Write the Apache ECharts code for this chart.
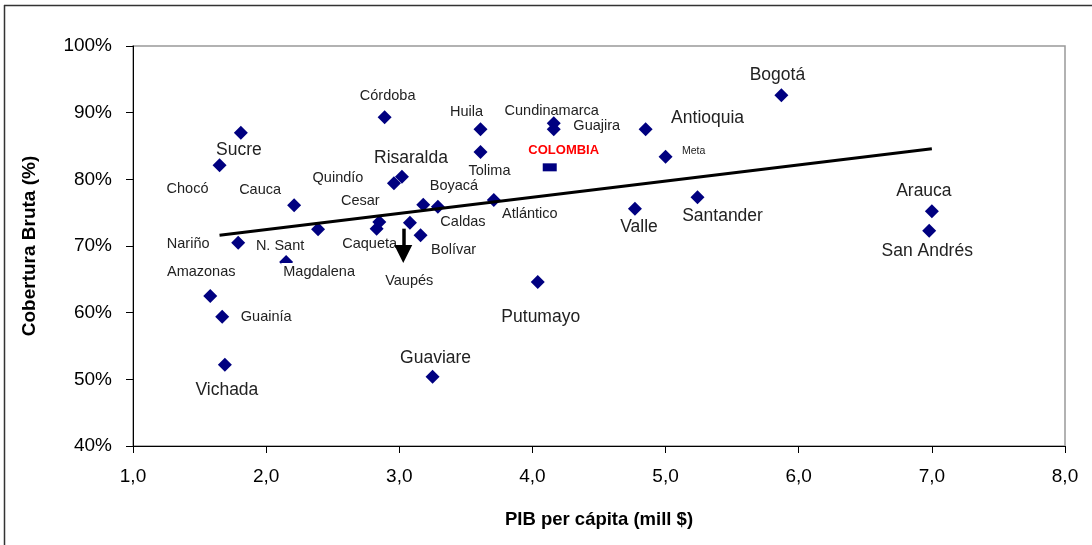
<!DOCTYPE html>
<html>
<head>
<meta charset="utf-8">
<script src="https://cdn.jsdelivr.net/npm/echarts@6/dist/echarts.min.js"></script>
<style>
  html, body { margin: 0; padding: 0; background: #fff; }
  #chart { width: 1092px; height: 545px; }
</style>
</head>
<body>
<div id="chart"></div>
<script>
// ---------- DATA ----------
const departamentos = ['Bogotá', 'Antioquia', 'Meta', 'Santander', 'Valle', 'Arauca', 'San Andrés',
  'Putumayo', 'Guaviare', 'Vichada', 'Guainía', 'Amazonas', 'Nariño', 'Magdalena', 'N. Sant',
  'Cauca', 'Chocó', 'Sucre', 'Córdoba', 'Quindío', 'Risaralda', 'Cesar', 'Caqueta', 'Vaupés',
  'Boyacá', 'Caldas', 'Bolívar', 'Atlántico', 'Tolima', 'Huila', 'Cundinamarca', 'Guajira'];
const pibPerCapita = [5.87, 4.85, 5.00, 5.24, 4.77, 7.00, 6.98,
  4.04, 3.25, 1.69, 1.67, 1.58, 1.79, 2.15, 2.39,
  2.21, 1.65, 1.81, 2.89, 2.96, 3.02, 2.85, 2.83, 3.18,
  3.29, 3.08, 3.16, 3.71, 3.61, 3.61, 4.16, 4.16];
const coberturaBruta = [92.6, 87.5, 83.4, 77.3, 75.6, 75.2, 72.3,
  64.6, 50.4, 52.2, 59.4, 62.5, 70.5, 67.6, 72.5,
  76.1, 82.1, 87.0, 89.3, 79.4, 80.4, 73.6, 72.6, 76.2,
  75.9, 73.5, 71.6, 76.9, 84.1, 87.5, 88.4, 87.5];

const paisNombre = ['COLOMBIA'];
const paisPib = [4.13];
const paisCobertura = [81.8];

const tendenciaPib = [1.65, 7.0];
const tendenciaCobertura = [71.6, 84.6];

const flechaVaupesPib = [3.03, 3.03];
const flechaVaupesCobertura = [72.6, 68.8];

const xTicks = [1, 2, 3, 4, 5, 6, 7, 8];
const yTicks = [40, 50, 60, 70, 80, 90, 100];

const xTitulo = 'PIB per cápita (mill $)';
const yTitulo = 'Cobertura Bruta (%)';

// ---------- STYLE (label placement, in pixels from the marker) ----------
const labelOffsets = {
  'Bogotá': [-4, -20], 'Antioquia': [62, -11], 'Meta': [28, -6], 'Santander': [25, 19],
  'Valle': [4, 19], 'Arauca': [-8, -20], 'San Andrés': [-2, 21], 'Putumayo': [3, 35],
  'Guaviare': [3, -18], 'Vichada': [2, 26], 'Guainía': [44, 0], 'Amazonas': [-9, -24],
  'Nariño': [-50, 1], 'Magdalena': [33, 10], 'N. Sant': [-38, 17], 'Cauca': [-34, -15],
  'Chocó': [-32, 24], 'Sucre': [-2, 18], 'Córdoba': [3, -21], 'Quindío': [-56, -5],
  'Risaralda': [9, -18], 'Cesar': [-19, -21], 'Caqueta': [-7, 15], 'Vaupés': [-14, 76],
  'Boyacá': [16, -21], 'Caldas': [53, -1], 'Bolívar': [33, 15], 'Atlántico': [36, 14],
  'Tolima': [9, 19], 'Huila': [-14, -17], 'Cundinamarca': [-2, -12], 'Guajira': [43, -3],
  'COLOMBIA': [14, -17]
};
const bigLabels = ['Bogotá', 'Antioquia', 'Santander', 'Valle', 'Arauca', 'San Andrés', 'Putumayo',
  'Guaviare', 'Vichada', 'Sucre', 'Risaralda'];
const tinyLabels = ['Meta'];
const FONT = '"Liberation Sans", Arial, Helvetica, sans-serif';

function labelSize(n) {
  if (bigLabels.includes(n)) return 17.5;
  if (tinyLabels.includes(n)) return 10.5;
  return 14.5;
}

const deptData = departamentos.map((n, i) => {
  const item = {
    name: n,
    value: [pibPerCapita[i], coberturaBruta[i]],
    label: { offset: labelOffsets[n], fontSize: labelSize(n) }
  };
  if (n === 'Magdalena') {
    item.label.backgroundColor = '#fff';
    item.label.padding = [3, 2, 0, 2];
  }
  return item;
});

const paisData = paisNombre.map((n, i) => ({
  name: n,
  value: [paisPib[i], paisCobertura[i]],
  label: { offset: labelOffsets[n] }
}));

const tendenciaData = tendenciaPib.map((x, i) => [x, tendenciaCobertura[i]]);

const chart = echarts.init(document.getElementById('chart'), null, { renderer: 'canvas' });

chart.setOption({
  animation: false,
  backgroundColor: '#fff',
  textStyle: { fontFamily: FONT },
  grid: {
    left: 133, right: 27, top: 46, bottom: 99,
    show: true, borderColor: '#999', borderWidth: 1.5, backgroundColor: 'transparent'
  },
  xAxis: {
    type: 'value',
    min: xTicks[0], max: xTicks[xTicks.length - 1], interval: xTicks[1] - xTicks[0],
    name: xTitulo, nameLocation: 'middle', nameGap: 64,
    nameTextStyle: { fontFamily: FONT, fontSize: 18.5, fontWeight: 'bold', color: '#000' },
    axisLine: { show: true, onZero: false, lineStyle: { color: '#000', width: 1 } },
    axisTick: { show: true, length: 7, lineStyle: { color: '#000' } },
    axisLabel: {
      margin: 21, fontFamily: FONT, fontSize: 19, color: '#000',
      formatter: v => v.toFixed(1).replace('.', ',')
    },
    splitLine: { show: false }
  },
  yAxis: {
    type: 'value',
    min: yTicks[0], max: yTicks[yTicks.length - 1], interval: yTicks[1] - yTicks[0],
    name: yTitulo, nameLocation: 'middle', nameGap: 94, nameRotate: 90,
    nameTextStyle: { fontFamily: FONT, fontSize: 19, fontWeight: 'bold', color: '#000' },
    axisLine: { show: true, onZero: false, lineStyle: { color: '#000', width: 1 } },
    axisTick: { show: true, length: 7, lineStyle: { color: '#000' } },
    axisLabel: { margin: 21, fontFamily: FONT, fontSize: 19, color: '#000', formatter: '{value}%' },
    splitLine: { show: false }
  },
  graphic: [
    { type: 'line', shape: { x1: 4.5, y1: 5, x2: 4.5, y2: 545 }, style: { stroke: '#333', lineWidth: 1.5 }, z: 100 },
    { type: 'line', shape: { x1: 4, y1: 5.5, x2: 1092, y2: 5.5 }, style: { stroke: '#333', lineWidth: 1.5 }, z: 100 }
  ],
  series: [
    {
      name: 'Departamentos',
      type: 'scatter',
      symbol: 'diamond',
      symbolSize: 14,
      itemStyle: { color: '#000080', opacity: 1 },
      data: deptData,
      z: 3,
      label: {
        show: true,
        position: 'inside',
        formatter: p => p.name,
        color: '#222',
        fontFamily: FONT
      }
    },
    {
      name: 'Colombia',
      type: 'scatter',
      symbol: 'rect',
      symbolSize: [14, 8],
      itemStyle: { color: '#000080', opacity: 1 },
      data: paisData,
      z: 3,
      label: {
        show: true,
        position: 'inside',
        formatter: p => p.name,
        color: '#ff0000',
        fontWeight: 'bold',
        fontSize: 13,
        fontFamily: FONT
      }
    },
    {
      name: 'Tendencia',
      type: 'line',
      data: tendenciaData,
      symbol: 'none',
      lineStyle: { color: '#000', width: 3 },
      z: 4,
      markLine: {
        silent: true,
        symbol: ['none', 'triangle'],
        symbolSize: 18,
        label: { show: false },
        lineStyle: { color: '#000', width: 3.5, type: 'solid' },
        itemStyle: { color: '#000' },
        data: [[
          { coord: [flechaVaupesPib[0], flechaVaupesCobertura[0]] },
          { coord: [flechaVaupesPib[1], flechaVaupesCobertura[1]] }
        ]]
      }
    }
  ]
});
</script>
</body>
</html>
